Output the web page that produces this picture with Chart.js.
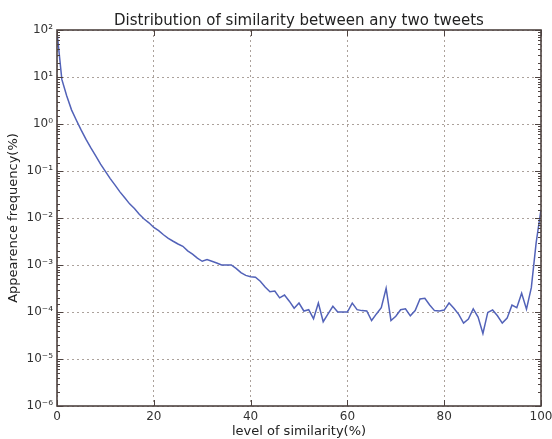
<!DOCTYPE html>
<html>
<head>
<meta charset="utf-8">
<script src="https://cdn.jsdelivr.net/npm/chart.js@4/dist/chart.umd.min.js"></script>
<style>
  html, body { margin: 0; padding: 0; background: #ffffff; }
  #wrap { width: 552px; height: 439px; position: relative; }
</style>
</head>
<body>
<div id="wrap"><canvas id="chart" width="552" height="439"></canvas></div>
<script>
// similarity level (%) on x, appearance frequency (%) on y
const similarityLevels = [
  0, 1, 2, 3, 4, 5, 6, 7, 8, 9, 10, 11, 12, 13, 14, 15, 16, 17, 18, 19,
  20, 21, 22, 23, 24, 25, 26, 27, 28, 29, 30, 31, 32, 33, 34, 35, 36, 37, 38, 39,
  40, 41, 42, 43, 44, 45, 46, 47, 48, 49, 50, 51, 52, 53, 54, 55, 56, 57, 58, 59,
  60, 61, 62, 63, 64, 65, 66, 67, 68, 69, 70, 71, 72, 73, 74, 75, 76, 77, 78, 79,
  80, 81, 82, 83, 84, 85, 86, 87, 88, 89, 90, 91, 92, 93, 94, 95, 96, 97, 98, 99, 100
];
const frequencies = [
  90, 8.9, 4.0, 2.0, 1.2, 0.74, 0.47, 0.31, 0.21, 0.14,
  0.098, 0.069, 0.050, 0.036, 0.027, 0.020, 0.016, 0.012, 0.0095, 0.0079,
  0.0063, 0.0054, 0.0044, 0.0037, 0.0032, 0.0028, 0.0025, 0.0020, 0.0017, 0.0014,
  0.0012, 0.0013, 0.0012, 0.0011, 0.0010, 0.0010, 0.0010, 0.00085, 0.00069, 0.00060,
  0.00056, 0.00055, 0.00045, 0.00034, 0.00027, 0.00028, 0.00020, 0.00023, 0.00017, 0.00012,
  0.000155, 0.000105, 0.000112, 0.000072, 0.000155, 0.000062, 0.000091, 0.000132, 0.0001, 0.0001,
  0.0001, 0.000155, 0.000112, 0.000107, 0.000105, 0.000066, 0.000091, 0.000123, 0.00032, 0.000066,
  0.000081, 0.000112, 0.000117, 0.000083, 0.000107, 0.00019, 0.000195, 0.000141, 0.000107, 0.000105,
  0.00011, 0.000155, 0.00012, 0.000089, 0.000058, 0.000071, 0.000117, 0.000078, 0.000035, 0.000098,
  0.00011, 0.000083, 0.000058, 0.000074, 0.00014, 0.000123, 0.00025, 0.000115, 0.00033, 0.003,
  0.015
];
const xTicks = [0, 20, 40, 60, 80, 100];
const yMin = 1e-6;
const yMax = 100;

const chartTitle = 'Distribution of similarity between any two tweets';
const xTitle = 'level of similarity(%)';
const yTitle = 'Appearence frequency(%)';

const FONT = 'DejaVu Sans';
const FRAME = '#4e4340';
const GRID = 'rgba(150, 138, 130, 0.8)';

const SUP = { '-': '\u207B', '0': '\u2070', '1': '\u00B9', '2': '\u00B2', '3': '\u00B3',
  '4': '\u2074', '5': '\u2075', '6': '\u2076', '7': '\u2077', '8': '\u2078', '9': '\u2079' };

function isDecade(v) {
  const lg = Math.log10(v);
  return Math.abs(lg - Math.round(lg)) < 1e-6;
}
function powLabel(v) {
  const e = String(Math.round(Math.log10(v)));
  return '10' + e.split('').map(c => SUP[c]).join('');
}

// frame round the plot and matplotlib-style inner ticks
const frameTicks = {
  id: 'frameTicks',
  afterDraw(chart) {
    const { ctx, chartArea: a, scales } = chart;
    ctx.save();
    ctx.strokeStyle = FRAME;
    ctx.lineWidth = 1;
    scales.y.ticks.forEach(t => {
      const y = Math.round(scales.y.getPixelForValue(t.value)) + 0.5;
      const len = isDecade(t.value) ? 6 : 3;
      ctx.beginPath();
      ctx.moveTo(a.left, y); ctx.lineTo(a.left + len, y);
      ctx.moveTo(a.right, y); ctx.lineTo(a.right - len, y);
      ctx.stroke();
    });
    xTicks.forEach(v => {
      const x = Math.round(scales.x.getPixelForValue(v)) + 0.5;
      ctx.beginPath();
      ctx.moveTo(x, a.bottom); ctx.lineTo(x, a.bottom - 6);
      ctx.moveTo(x, a.top); ctx.lineTo(x, a.top + 6);
      ctx.stroke();
    });
    ctx.lineWidth = 1.6;
    ctx.strokeRect(a.left, a.top, a.right - a.left, a.bottom - a.top);
    ctx.restore();
  }
};

new Chart(document.getElementById('chart').getContext('2d'), {
  type: 'line',
  data: {
    datasets: [{
      data: similarityLevels.map((x, i) => ({ x: x, y: frequencies[i] })),
      borderColor: '#5262b8',
      borderWidth: 1.5,
      pointRadius: 0,
      tension: 0,
      fill: false
    }]
  },
  options: {
    responsive: false,
    animation: false,
    layout: { padding: 0 },
    plugins: {
      legend: { display: false },
      tooltip: { enabled: false },
      title: {
        display: true,
        text: chartTitle,
        fullSize: false,
        color: '#222',
        font: { family: FONT, size: 15, weight: 'normal' },
        padding: { top: 12, bottom: 0 }
      }
    },
    scales: {
      x: {
        type: 'linear',
        min: 0,
        max: 100,
        afterBuildTicks: s => { s.ticks = xTicks.map(v => ({ value: v })); },
        afterFit: s => { s.height = 33; s.paddingRight = 11; },
        border: { display: false, dash: [2, 3] },
        grid: { color: GRID, drawTicks: false, lineWidth: 1 },
        ticks: { color: '#333', padding: 4, font: { family: FONT, size: 12 } },
        title: {
          display: true, text: xTitle, color: '#222',
          font: { family: FONT, size: 13 }, padding: { top: 0, bottom: 0 }
        }
      },
      y: {
        type: 'logarithmic',
        min: yMin,
        max: yMax,
        afterFit: s => { s.width = 57; },
        border: { display: false, dash: [2, 3] },
        grid: {
          color: c => (c.tick && isDecade(c.tick.value)) ? GRID : 'rgba(0,0,0,0)',
          drawTicks: false, lineWidth: 1
        },
        ticks: {
          autoSkip: false,
          color: '#333',
          padding: 4,
          font: { family: FONT, size: 12 },
          callback: v => isDecade(v) ? powLabel(v) : ''
        },
        title: {
          display: true, text: yTitle, color: '#222',
          font: { family: FONT, size: 13 }, padding: { top: 6, bottom: 0 }
        }
      }
    }
  },
  plugins: [frameTicks]
});
</script>
</body>
</html>
